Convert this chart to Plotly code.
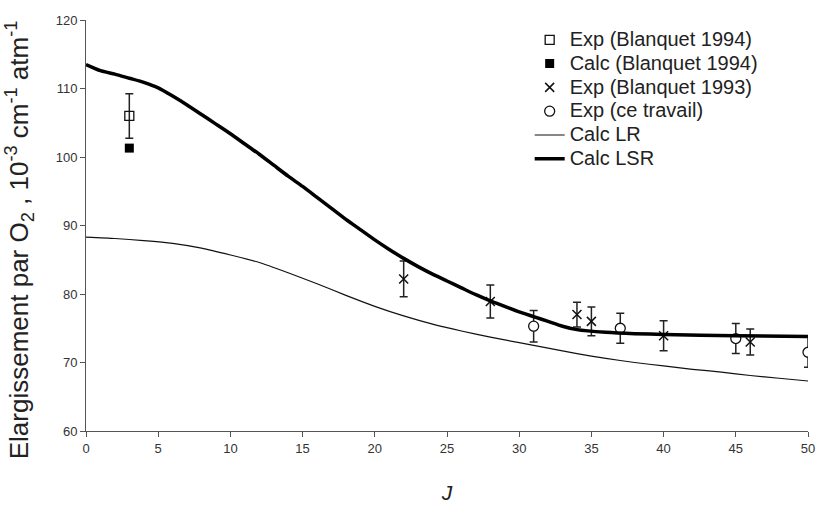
import plotly.graph_objects as go

# Calc LR curve (thin)
lr_J = [0, 2, 4, 6, 8, 10, 12, 14, 16, 18, 20, 22, 24, 26, 28, 30, 32, 34, 36, 38, 40, 42, 44, 46, 48, 50]
lr_val = [88.3, 88.1, 87.8, 87.4, 86.7, 85.7, 84.6, 83.1, 81.5, 79.8, 78.2, 76.8, 75.6, 74.6, 73.7, 72.9,
          72.1, 71.3, 70.6, 70.0, 69.5, 69.0, 68.6, 68.1, 67.7, 67.3]

# Calc LSR curve (thick)
lsr_J = [0, 1, 2, 3, 4, 5, 6, 7, 8, 9, 10, 11, 12, 13, 14, 15, 16, 17, 18, 19, 20, 21, 22, 23, 24, 25,
         26, 27, 28, 29, 30, 31, 32, 33, 34, 36, 38, 40, 45, 50]
lsr_val = [113.5, 112.6, 112.1, 111.5, 110.9, 110.1, 108.9, 107.6, 106.2, 104.8, 103.4, 101.9, 100.4,
           98.8, 97.2, 95.7, 94.1, 92.5, 90.9, 89.4, 87.9, 86.5, 85.2, 84.0, 82.9, 81.9,
           80.9, 79.9, 79.0, 78.2, 77.4, 76.7, 76.0, 75.3, 74.8, 74.4, 74.2, 74.1, 73.9, 73.8]

# Exp (Blanquet 1994)
b94_J = [3]
b94_val = [106.0]
b94_err = [3.25]

# Calc (Blanquet 1994)
c94_J = [3]
c94_val = [101.3]

# Exp (Blanquet 1993)
b93_J = [22, 28, 34, 35, 40, 46]
b93_val = [82.2, 78.9, 77.0, 76.0, 73.9, 73.0]
b93_err = [2.6, 2.4, 1.8, 2.1, 2.2, 1.9]

# Exp (ce travail)
ct_J = [31, 37, 45, 50]
ct_val = [75.3, 75.0, 73.5, 71.5]
ct_err = [2.3, 2.2, 2.2, 2.2]

x_ticks = [0, 5, 10, 15, 20, 25, 30, 35, 40, 45, 50]
y_ticks = [60, 70, 80, 90, 100, 110, 120]

series_names = ["Exp (Blanquet 1994)", "Calc (Blanquet 1994)", "Exp (Blanquet 1993)",
                "Exp (ce travail)", "Calc LR", "Calc LSR"]


def legend_label(s):
    return '<span style="font-size:20px">' + s + '</span>'


err_style = dict(type="data", visible=True, color="#222", thickness=1.5, width=4)

fig = go.Figure()
fig.add_trace(go.Scatter(x=b94_J, y=b94_val, mode="markers", name=legend_label(series_names[0]),
                         error_y=dict(array=b94_err, **err_style),
                         marker=dict(symbol="square-open", size=9, color="#111", line=dict(width=1.3))))
fig.add_trace(go.Scatter(x=c94_J, y=c94_val, mode="markers", name=legend_label(series_names[1]),
                         marker=dict(symbol="square", size=9, color="#000")))
fig.add_trace(go.Scatter(x=b93_J, y=b93_val, mode="markers", name=legend_label(series_names[2]),
                         error_y=dict(array=b93_err, **err_style),
                         marker=dict(symbol="x-thin-open", size=9, color="#111", line=dict(width=1.5, color="#111"))))
fig.add_trace(go.Scatter(x=ct_J, y=ct_val, mode="markers", name=legend_label(series_names[3]),
                         error_y=dict(array=ct_err, **err_style),
                         marker=dict(symbol="circle", size=10, color="white", line=dict(width=1.3, color="#111"))))
fig.add_trace(go.Scatter(x=lr_J, y=lr_val, mode="lines", name=legend_label(series_names[4]),
                         line=dict(color="#111", width=1.2, shape="spline", smoothing=0.6)))
fig.add_trace(go.Scatter(x=lsr_J, y=lsr_val, mode="lines", name=legend_label(series_names[5]),
                         line=dict(color="#000", width=3.5, shape="spline", smoothing=0.6)))

axis_common = dict(showgrid=False, zeroline=False, showline=True, linecolor="#555", linewidth=1,
                   ticks="outside", ticklen=5, tickcolor="#555", tickwidth=1,
                   tickfont=dict(family="Liberation Sans, Arial, sans-serif", size=13, color="#333"))

fig.update_layout(
    width=826, height=511,
    margin=dict(l=86, r=11, t=20, b=79),
    paper_bgcolor="white", plot_bgcolor="white",
    font=dict(family="Liberation Sans, Arial, sans-serif", color="#222"),
    xaxis=dict(range=[0, 50], tickvals=x_ticks, ticktext=[str(v) for v in x_ticks],
               title=dict(text="<i>J</i>", font=dict(size=21, color="#222"), standoff=30),
               **axis_common),
    yaxis=dict(range=[60, 120], tickvals=y_ticks, ticktext=[str(v) for v in y_ticks],
               title=dict(text="Elargissement par O<sub>2</sub> , 10<sup>-3</sup> cm<sup>-1</sup> atm<sup>-1</sup>&nbsp;&nbsp;&nbsp;&nbsp;",
                          font=dict(size=26, color="#222"), standoff=19),
               **axis_common),
    legend=dict(x=0.6145, y=0.993, xanchor="left", yanchor="top", bgcolor="rgba(0,0,0,0)",
                font=dict(size=16, color="#222"), tracegroupgap=0, itemwidth=30),
    showlegend=True,
)

fig.write_html("out.html")
